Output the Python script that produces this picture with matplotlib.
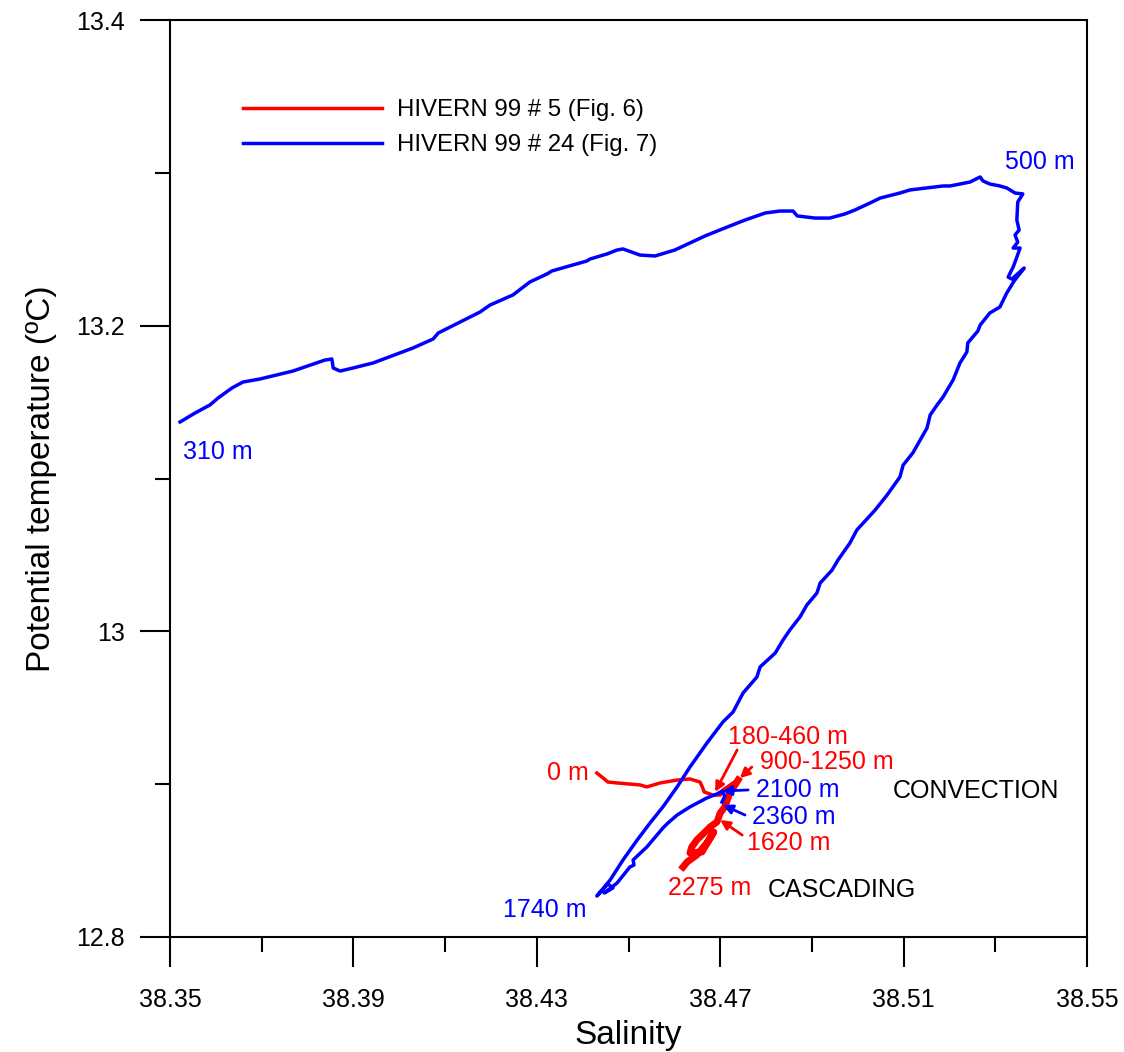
import matplotlib
matplotlib.use("Agg")
import matplotlib.pyplot as plt
from matplotlib.ticker import FixedLocator, FuncFormatter

plt.rcParams['font.family'] = ['Liberation Sans', 'DejaVu Sans']

# HIVERN 99 # 24 : theta-S profile, 310 m -> 500 m -> 1740 m -> 2100/2360 m
sal_24 = [38.3522, 38.3555, 38.3587, 38.3605, 38.3635, 38.3659, 38.3696, 38.3768,
          38.3838, 38.3853, 38.3856, 38.3871, 38.3899, 38.3943, 38.4030, 38.4074,
          38.4085, 38.4176, 38.4198, 38.4248, 38.4285, 38.4322, 38.4333, 38.4409,
          38.4416, 38.4453, 38.4475, 38.4488, 38.4525, 38.4558, 38.4601, 38.4634,
          38.4667, 38.4710, 38.4754, 38.4798, 38.4830, 38.4859, 38.4868, 38.4907,
          38.4939, 38.4972, 38.4994, 38.5027, 38.5049, 38.5092, 38.5114, 38.5186,
          38.5201, 38.5245, 38.5267, 38.5273, 38.5288, 38.5310, 38.5325, 38.5343,
          38.5360, 38.5349, 38.5347, 38.5352, 38.5343, 38.5349, 38.5339, 38.5354,
          38.5347, 38.5339, 38.5328, 38.5336, 38.5363, 38.5341, 38.5325, 38.5310,
          38.5288, 38.5267, 38.5262, 38.5240, 38.5238, 38.5223, 38.5208, 38.5186,
          38.5173, 38.5158, 38.5151, 38.5120, 38.5099, 38.5092, 38.5064, 38.5038,
          38.4998, 38.4983, 38.4957, 38.4944, 38.4918, 38.4911, 38.4889, 38.4874,
          38.4852, 38.4837, 38.4820, 38.4787, 38.4780, 38.4750, 38.4728, 38.4706,
          38.4671, 38.4634, 38.4606, 38.4575, 38.4547, 38.4519, 38.4488, 38.4460,
          38.4431, 38.4455, 38.4466, 38.4447, 38.4475, 38.4503, 38.4512, 38.4510,
          38.4540, 38.4575, 38.4586, 38.4606, 38.4634, 38.4671, 38.4693, 38.4704,
          38.4710, 38.4704]
theta_24 = [13.1370, 13.1429, 13.1481, 13.1527, 13.1592, 13.1631, 13.1651, 13.1703,
            13.1775, 13.1782, 13.1723, 13.1703, 13.1723, 13.1756, 13.1854, 13.1913,
            13.1952, 13.2089, 13.2135, 13.2201, 13.2286, 13.2338, 13.2358, 13.2423,
            13.2436, 13.2469, 13.2495, 13.2502, 13.2462, 13.2456, 13.2495, 13.2541,
            13.2587, 13.2639, 13.2691, 13.2737, 13.2750, 13.2750, 13.2718, 13.2704,
            13.2704, 13.2731, 13.2757, 13.2803, 13.2835, 13.2868, 13.2888, 13.2914,
            13.2914, 13.2940, 13.2973, 13.2947, 13.2927, 13.2914, 13.2901, 13.2868,
            13.2862, 13.2809, 13.2691, 13.2626, 13.2593, 13.2547, 13.2508, 13.2508,
            13.2449, 13.2384, 13.2318, 13.2305, 13.2377, 13.2292, 13.2214, 13.2122,
            13.2083, 13.2004, 13.1965, 13.1887, 13.1828, 13.1756, 13.1645, 13.1533,
            13.1481, 13.1416, 13.1330, 13.1167, 13.1088, 13.1010, 13.0892, 13.0794,
            13.0663, 13.0578, 13.0467, 13.0401, 13.0316, 13.0251, 13.0172, 13.0094,
            13.0009, 12.9943, 12.9858, 12.9767, 12.9701, 12.9597, 12.9472, 12.9407,
            12.9269, 12.9112, 12.8982, 12.8851, 12.8746, 12.8635, 12.8504, 12.8373,
            12.8268, 12.8347, 12.8321, 12.8288, 12.8353, 12.8458, 12.8471, 12.8504,
            12.8589, 12.8713, 12.8746, 12.8798, 12.8851, 12.8910, 12.8936, 12.8955,
            12.8923, 12.8883]

# HIVERN 99 # 5 : surface part (0 m -> 460 m)
sal_5 = [38.4431, 38.4442, 38.4455, 38.4475, 38.4525, 38.4540, 38.4569, 38.4606,
         38.4634, 38.4656, 38.4662, 38.4665, 38.4684, 38.4700, 38.4706, 38.4728,
         38.4739]
theta_5 = [12.9073, 12.9047, 12.9014, 12.9008, 12.8995, 12.8982, 12.9008, 12.9027,
           12.9034, 12.9014, 12.8975, 12.8949, 12.8929, 12.8929, 12.8962, 12.9008,
           12.9027]
# HIVERN 99 # 5 : deep cascading part (900 m -> 2275 m)
sal_5_deep = [38.4739, 38.4721, 38.4710, 38.4700, 38.4693, 38.4678, 38.4667, 38.4649,
              38.4638, 38.4634, 38.4660, 38.4686, 38.4671, 38.4649, 38.4628, 38.4619]
theta_5_deep = [12.9027, 12.8942, 12.8851, 12.8811, 12.8753, 12.8720, 12.8687, 12.8635,
                12.8589, 12.8550, 12.8556, 12.8687, 12.8615, 12.8537, 12.8491, 12.8458]

legend_labels = ["HIVERN 99 # 5 (Fig. 6)", "HIVERN 99 # 24 (Fig. 7)"]

x_major = [38.35, 38.39, 38.43, 38.47, 38.51, 38.55]
x_minor = [38.37, 38.41, 38.45, 38.49, 38.53]
y_major = [12.8, 13.0, 13.2, 13.4]
y_minor = [12.9, 13.1, 13.3]

fig = plt.figure(figsize=(11.24, 10.52), dpi=100)
ax = fig.add_axes([170 / 1124, 1 - 937 / 1052, 917 / 1124, 917 / 1052])

red_line, = ax.plot(sal_5, theta_5, color='#ff0000', lw=2.5, label=legend_labels[0])
ax.plot(sal_5_deep, theta_5_deep, color='#ff0000', lw=5, solid_joinstyle='round')
blue_line, = ax.plot(sal_24, theta_24, color='#0000ff', lw=2.5, label=legend_labels[1])

ax.set_xlim(38.35, 38.55)
ax.set_ylim(12.8, 13.4)
ax.xaxis.set_major_locator(FixedLocator(x_major))
ax.xaxis.set_minor_locator(FixedLocator(x_minor))
ax.yaxis.set_major_locator(FixedLocator(y_major))
ax.yaxis.set_minor_locator(FixedLocator(y_minor))
ax.xaxis.set_major_formatter(FuncFormatter(lambda v, p: f"{v:.2f}"))
ax.yaxis.set_major_formatter(FuncFormatter(lambda v, p: f"{round(v, 1):g}"))

for s in ax.spines.values():
    s.set_linewidth(1.5)
ax.tick_params(which='both', direction='out', width=1.5, labelsize=18)
ax.tick_params(which='major', length=21.6)
ax.tick_params(which='minor', length=10.8)
ax.tick_params(axis='x', which='major', pad=15)
ax.tick_params(axis='y', which='major', pad=11)

ax.set_xlabel("Salinity", fontsize=24, labelpad=6)
ax.set_ylabel("Potential temperature (ºC)", fontsize=24, labelpad=14)

ax.legend(handles=[red_line, blue_line], loc='upper left',
          bbox_to_anchor=(243 / 1124, 1 - 99 / 1052), bbox_transform=fig.transFigure,
          frameon=False, borderpad=0, borderaxespad=0, handlelength=5.8,
          handletextpad=0.6, labelspacing=0.55, fontsize=17.3)

# depth labels
blue_labels = [("310 m", 38.3528, 13.1173), ("500 m", 38.5321, 13.3071),
               ("1740 m", 38.4226, 12.8177)]
for txt, x, y in blue_labels:
    ax.text(x, y, txt, color='#0000ff', fontsize=18, ha='left', va='center')

ax.text(38.4322, 12.9073, "0 m", color='#ff0000', fontsize=18, ha='left', va='center')
ax.text(38.4586, 12.8321, "2275 m", color='#ff0000', fontsize=18, ha='left', va='center')
ax.text(38.5077, 12.8955, "CONVECTION", color='black', fontsize=18, ha='left', va='center')
ax.text(38.4804, 12.8308, "CASCADING", color='black', fontsize=18, ha='left', va='center')

# labels with arrows: text, text pos, arrow tail, arrow head, colour
arrow_labels = [
    ("180-460 m", (38.4717, 12.9309), (38.4737, 12.9224), (38.4689, 12.8949), '#ff0000'),
    ("900-1250 m", (38.4787, 12.9145), (38.4769, 12.9112), (38.4743, 12.9040), '#ff0000'),
    ("2100 m", (38.4778, 12.8962), (38.4761, 12.8962), (38.4704, 12.8955), '#0000ff'),
    ("2360 m", (38.4769, 12.8785), (38.4754, 12.8798), (38.4706, 12.8864), '#0000ff'),
    ("1620 m", (38.4758, 12.8615), (38.4748, 12.8667), (38.4700, 12.8766), '#ff0000'),
]
for txt, tpos, tail, head, c in arrow_labels:
    ax.text(tpos[0], tpos[1], txt, color=c, fontsize=18, ha='left', va='center')
    ax.annotate("", xy=head, xytext=tail,
                arrowprops=dict(arrowstyle='-|>', color=c, lw=2, mutation_scale=14,
                                shrinkA=0, shrinkB=0))

fig.savefig("out.png", dpi=100)
